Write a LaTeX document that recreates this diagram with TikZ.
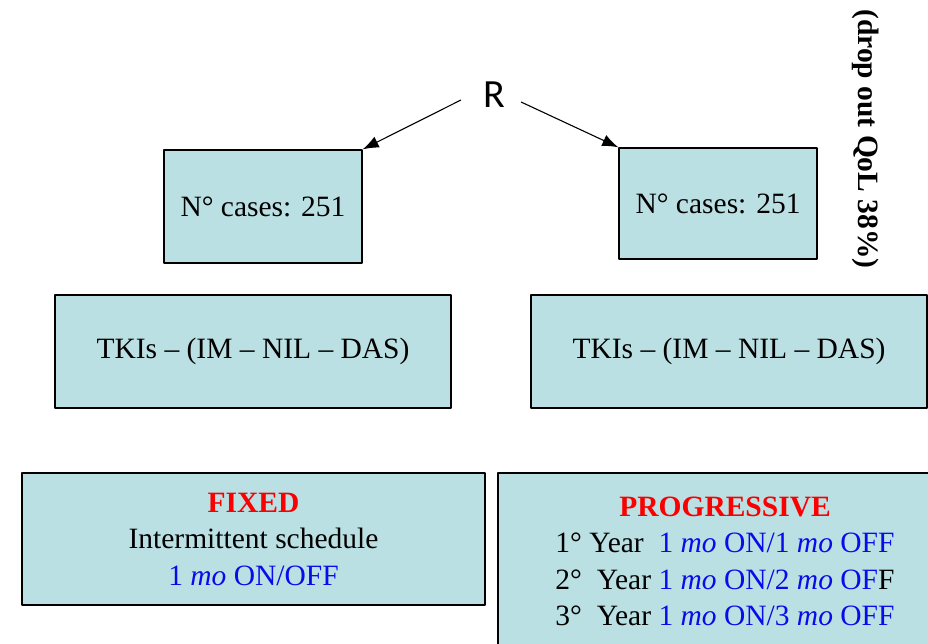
\documentclass[tikz,border=0pt]{standalone}
\usepackage{fontspec}
\setmainfont{Liberation Serif}
\newfontfamily\rfont{Carlito}
\usetikzlibrary{arrows.meta}
\definecolor{boxfill}{RGB}{187,224,227}
\definecolor{onblue}{RGB}{10,10,235}
\definecolor{armred}{RGB}{250,0,0}
\begin{document}
\begin{tikzpicture}[x=1pt,y=-1pt,>={Latex[length=16pt,width=12pt]}, line join=round,
    box/.style={draw,line width=1.4pt,fill=boxfill,inner sep=0pt,align=center,font=\fontsize{29.5}{36.5}\selectfont},
    arm/.style={text=armred,font=\bfseries},
    sched/.style={text=onblue}]
            \def\W{928} \def\H{643}
            \useasboundingbox (0,0) rectangle (\W,\H);
            \clip (0,0) rectangle (\W,\H);
            % randomisation
            \node (R) [font=\rfont\fontsize{40}{40}\selectfont, inner xsep=22pt, inner ysep=0pt] at (494,95) {R};
            % cases
            \node (casesl) [box, minimum width=198, minimum height=113] at (263,206.5) {N° cases: 251};
            \node (casesr) [box, minimum width=198, minimum height=111] at (718,203.5) {N° cases: 251};
            \draw[->,line width=1.1pt] ([yshift=-5pt]R.west) -- (casesl.north east);
            \draw[->,line width=1.1pt] ([xshift=-6pt,yshift=-7pt]R.east) -- (casesr.north west);
            % drugs
            \node (tkil) [box, minimum width=396, minimum height=113] at (253,351.5) {TKIs – (IM – NIL – DAS)};
            \node (tkir) [box, minimum width=396, minimum height=113] at (729,351.5) {TKIs – (IM – NIL – DAS)};
            % schedules
            \node (fixed) [box, minimum width=463, minimum height=132] at (253.5,539) {{\color{armred}\bfseries FIXED}\\
                Intermittent schedule\\
                \textcolor{onblue}{1 \textit{mo} ON/OFF}};
            \node (prog) [box, minimum width=454, minimum height=177] at (725,561.5) {{\color{armred}\bfseries PROGRESSIVE}\\
                1° Year\ \ \textcolor{onblue}{1 \textit{mo} ON/1 \textit{mo} OFF}\\
                2°\ \ Year \textcolor{onblue}{1 \textit{mo} ON/2 \textit{mo} OF}F\\
                3°\ \ Year \textcolor{onblue}{1 \textit{mo} ON/3 \textit{mo} OFF}};
            \node (drop) [rotate=-90, font=\bfseries\fontsize{29.5}{34}\selectfont] at (866,139) {(drop out QoL 38\%)};
\end{tikzpicture}
\end{document}
